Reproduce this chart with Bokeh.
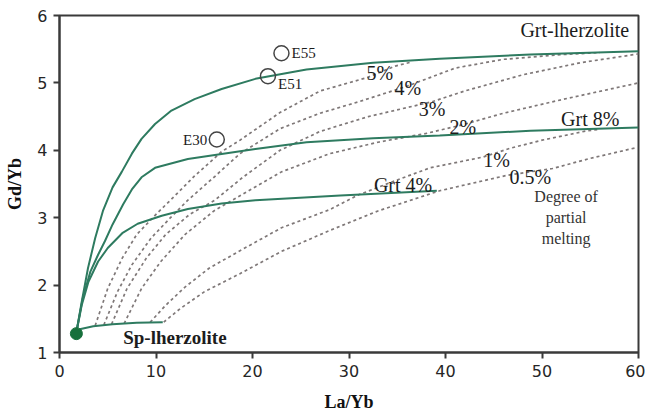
from bokeh.plotting import figure
from bokeh.models import Range1d, FixedTicker, ColumnDataSource
from bokeh.core.properties import value
from bokeh.embed import file_html
from bokeh.resources import INLINE

# ---- source compositions / melting trajectories (La/Yb vs Gd/Yb) ----
grt_lherz_x = [1.75, 2.3, 2.95, 3.7, 4.5, 5.5, 6.45, 7.5, 8.5, 9.9, 11.6, 14.0, 16.8, 20.3, 25.6, 32.5, 39.4, 48.8, 60.0]
grt_lherz_y = [1.30, 1.75, 2.25, 2.70, 3.10, 3.45, 3.68, 3.95, 4.17, 4.39, 4.59, 4.76, 4.91, 5.06, 5.20, 5.30, 5.36, 5.42, 5.47]

grt8_x = [1.75, 2.4, 3.2, 4.0, 4.7, 5.5, 6.6, 7.5, 8.5, 9.9, 13.3, 20.3, 25.6, 32.5, 39.4, 48.8, 60.0]
grt8_y = [1.30, 1.80, 2.20, 2.45, 2.65, 2.90, 3.20, 3.42, 3.60, 3.74, 3.87, 4.02, 4.12, 4.18, 4.22, 4.29, 4.34]

grt4_x = [1.75, 2.3, 3.0, 4.0, 5.0, 6.5, 8.1, 10.6, 13.3, 16.8, 20.3, 29.1, 39.1]
grt4_y = [1.30, 1.70, 2.05, 2.35, 2.55, 2.77, 2.91, 3.03, 3.13, 3.21, 3.26, 3.33, 3.40]

sp_lherz_x = [1.75, 2.2, 3.5, 5.5, 8.0, 10.7]
sp_lherz_y = [1.30, 1.35, 1.39, 1.42, 1.44, 1.45]

# ---- degree of partial melting curves ----
melt5_x = [3.7, 5.0, 6.5, 8.0, 10.0, 11.5, 14.0, 16.8, 18.7, 22.85, 27.0, 31.9, 34.8, 36.5]
melt5_y = [1.40, 1.95, 2.40, 2.75, 3.05, 3.26, 3.62, 3.98, 4.15, 4.56, 4.88, 5.08, 5.25, 5.31]

melt4_x = [4.6, 6.0, 7.5, 9.5, 11.5, 13.3, 16.0, 18.7, 22.85, 27.0, 31.0, 36.0, 41.0, 46.0, 52.0, 56.0]
melt4_y = [1.41, 1.90, 2.30, 2.70, 3.00, 3.26, 3.60, 3.95, 4.32, 4.55, 4.72, 4.95, 5.22, 5.35, 5.42, 5.45]

melt3_x = [5.4, 7.0, 9.0, 11.0, 13.5, 16.1, 19.0, 22.85, 27.0, 32.0, 38.6, 42.0, 48.0, 54.0, 60.0]
melt3_y = [1.42, 1.95, 2.40, 2.75, 3.05, 3.26, 3.60, 4.00, 4.28, 4.50, 4.72, 4.88, 5.12, 5.30, 5.43]

melt2_x = [6.7, 8.5, 10.5, 13.0, 16.0, 19.0, 23.0, 28.0, 33.0, 38.0, 41.8, 46.0, 52.0, 60.0]
melt2_y = [1.43, 1.95, 2.35, 2.75, 3.10, 3.35, 3.68, 3.95, 4.12, 4.25, 4.38, 4.55, 4.75, 5.00]

melt1_x = [9.4, 11.0, 13.0, 15.5, 18.7, 23.0, 28.0, 31.0, 35.0, 38.4, 43.9, 46.7, 50.0, 54.7, 56.0]
melt1_y = [1.45, 1.70, 1.97, 2.25, 2.51, 2.85, 3.12, 3.34, 3.56, 3.74, 3.90, 4.03, 4.15, 4.29, 4.31]

melt05_x = [10.8, 12.5, 15.0, 18.7, 23.0, 28.0, 33.0, 39.4, 46.4, 51.1, 55.0, 59.8]
melt05_y = [1.45, 1.65, 1.90, 2.17, 2.50, 2.81, 3.10, 3.40, 3.63, 3.73, 3.88, 4.04]

# ---- samples ----
sample_names = ["E55", "E51", "E30"]
sample_x = [23.0, 21.6, 16.3]
sample_y = [5.44, 5.10, 4.16]

# primitive mantle starting point
start_x = [1.75]
start_y = [1.28]

x_ticks = [0, 10, 20, 30, 40, 50, 60]
y_ticks = [1, 2, 3, 4, 5, 6]

GREEN = "#2e7b60"
DOT = "#7f7878"
INK = "#1c1c1c"
SERIF = value("Liberation Serif")

p = figure(width=645, height=415, output_backend="svg", toolbar_location=None,
           x_range=Range1d(0, 60), y_range=Range1d(1, 6),
           min_border_left=59, min_border_right=7, min_border_top=15, min_border_bottom=63)
p.background_fill_color = "white"
p.border_fill_color = "white"
p.grid.visible = False
p.outline_line_color = "#3a3a3a"
p.outline_line_width = 2

for ax in (p.xaxis[0], p.yaxis[0]):
    ax.axis_line_color = "#3a3a3a"
    ax.axis_line_width = 2
    ax.major_tick_line_color = "#3a3a3a"
    ax.major_tick_line_width = 2
    ax.major_tick_out = 6
    ax.major_tick_in = 0
    ax.minor_tick_line_color = None
    ax.major_label_text_font = "DejaVu Sans"
    ax.major_label_text_font_size = "16px"
    ax.major_label_text_color = "#262626"
    ax.axis_label_text_font = "Liberation Serif"
    ax.axis_label_text_font_style = "bold"
    ax.axis_label_text_font_size = "18px"
    ax.axis_label_text_color = "#111111"

p.xaxis.ticker = FixedTicker(ticks=x_ticks)
p.yaxis.ticker = FixedTicker(ticks=y_ticks)
p.xaxis.axis_label = "La/Yb"
p.yaxis.axis_label = "Gd/Yb"
p.xaxis.major_label_standoff = 6
p.xaxis.axis_label_standoff = 12
p.yaxis.major_label_standoff = 6
p.yaxis.axis_label_standoff = 9

# melting curves (dotted)
for mx, my in [(melt5_x, melt5_y), (melt4_x, melt4_y), (melt3_x, melt3_y),
               (melt2_x, melt2_y), (melt1_x, melt1_y), (melt05_x, melt05_y)]:
    p.line(mx, my, line_color=DOT, line_width=1.7, line_dash="3 3")

# source mixing curves (solid green)
for gx, gy in [(grt_lherz_x, grt_lherz_y), (grt8_x, grt8_y), (grt4_x, grt4_y), (sp_lherz_x, sp_lherz_y)]:
    p.line(gx, gy, line_color=GREEN, line_width=2)

p.scatter(start_x, start_y, size=12, fill_color="#17703c", line_color="#17703c")

src = ColumnDataSource(dict(x=sample_x, y=sample_y, name=sample_names))
p.scatter("x", "y", source=src, size=15, fill_color=None, line_color="#444444", line_width=1.5)

# sample labels
p.text([23.0 + 1.05], [5.45], text=["E55"], text_font=SERIF, text_font_size="15px",
       text_align="left", text_baseline="middle", text_color=INK)
p.text([21.6 + 1.05], [4.98], text=["E51"], text_font=SERIF, text_font_size="15px",
       text_align="left", text_baseline="middle", text_color=INK)
p.text([16.3 - 1.0], [4.16], text=["E30"], text_font=SERIF, text_font_size="15px",
       text_align="right", text_baseline="middle", text_color=INK)

# curve labels
curve_labels = ["Grt-lherzolite", "Grt 8%", "Grt 4%"]
curve_lx = [53.4, 55.0, 35.6]
curve_ly = [5.78, 4.47, 3.48]
p.text(curve_lx, curve_ly, text=curve_labels, text_font=SERIF, text_font_size="20px",
       text_align="center", text_baseline="middle", text_color=INK)
p.text([6.6], [1.22], text=["Sp-lherzolite"], text_font=SERIF, text_font_size="19px",
       text_font_style="bold", text_align="left", text_baseline="middle", text_color=INK)

melt_labels = ["5%", "4%", "3%", "2%", "1%", "0.5%"]
melt_lx = [33.2, 36.1, 38.6, 41.8, 45.3, 48.8]
melt_ly = [5.15, 4.92, 4.62, 4.34, 3.85, 3.60]
p.text(melt_lx, melt_ly, text=melt_labels, text_font=SERIF, text_font_size="20px",
       text_align="center", text_baseline="middle", text_color=INK)

p.text([52.5, 52.5, 52.5], [3.31, 3.00, 2.69], text=["Degree of", "partial", "melting"],
       text_font=SERIF, text_font_size="16px", text_align="center", text_baseline="middle",
       text_color="#333333")

open("out.html", "w").write(file_html(p, INLINE))
